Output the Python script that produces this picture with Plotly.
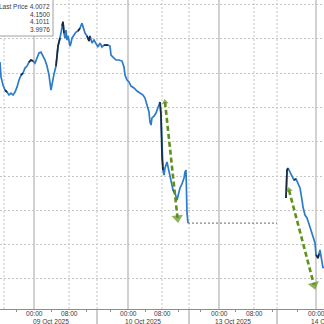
import plotly.graph_objects as go

# ---- data (bar index along compressed trading timeline, yield level) ----
bar_x = [0, 1, 3, 5, 7, 9, 11, 13, 15, 17, 19, 21, 23, 25, 27, 29, 31, 33, 35, 37, 39, 41, 43, 45, 47, 49, 51, 52, 54, 56, 57, 58, 60, 61, 62, 63, 64, 65, 66, 67, 68, 69, 70, 71, 72, 74, 76, 78, 80, 82, 83, 85, 87, 89, 90, 92, 94, 96, 98, 100, 102, 104, 106, 108, 110, 111, 113, 116, 119, 122, 124, 125, 127, 129, 131, 134, 137, 140, 143, 145, 147, 149, 150, 151, 152, 154, 156, 158, 159, 160, 161, 162, 163, 164, 165, 167, 169, 171, 173, 175, 177, 178, 180, 182, 184, 185, 186, 187, 188]
price = [4.1265, 4.1178, 4.1131, 4.1102, 4.1090, 4.1073, 4.1084, 4.1073, 4.1090, 4.1119, 4.1160, 4.1189, 4.1201, 4.1230, 4.1242, 4.1265, 4.1277, 4.1271, 4.1259, 4.1294, 4.1318, 4.1323, 4.1300, 4.1277, 4.1242, 4.1189, 4.1102, 4.1137, 4.1195, 4.1242, 4.1294, 4.1358, 4.1405, 4.1440, 4.1475, 4.1500, 4.1434, 4.1405, 4.1452, 4.1393, 4.1417, 4.1376, 4.1358, 4.1376, 4.1405, 4.1423, 4.1440, 4.1446, 4.1463, 4.1492, 4.1469, 4.1434, 4.1417, 4.1388, 4.1417, 4.1376, 4.1393, 4.1370, 4.1353, 4.1376, 4.1353, 4.1364, 4.1364, 4.1364, 4.1358, 4.1306, 4.1294, 4.1277, 4.1277, 4.1271, 4.1236, 4.1189, 4.1160, 4.1149, 4.1125, 4.1114, 4.1096, 4.1084, 4.1073, 4.1055, 4.1020, 4.0974, 4.0915, 4.0898, 4.0939, 4.0950, 4.0968, 4.0997, 4.1020, 4.1032, 4.0956, 4.0711, 4.0635, 4.0606, 4.0647, 4.0682, 4.0624, 4.0577, 4.0519, 4.0501, 4.0461, 4.0484, 4.0531, 4.0554, 4.0589, 4.0624, 4.0635, 4.0385, 4.0326]

bar_x2 = [286, 286.5, 287, 288, 290, 292, 294, 296, 298, 300, 302, 303, 305, 307, 309, 311, 313, 315, 316, 317, 318, 319, 320, 321, 322, 323, 324]
price2 = [4.0472, 4.0606, 4.0635, 4.0647, 4.0624, 4.0600, 4.0577, 4.0583, 4.0560, 4.0531, 4.0461, 4.0420, 4.0373, 4.0356, 4.0321, 4.0286, 4.0245, 4.0210, 4.0140, 4.0128, 4.0122, 4.0146, 4.0169, 4.0134, 4.0093, 4.0064, 4.0072]

holiday_x = [188, 277]
holiday_price = [4.0326, 4.0326]

dark_ranges = [(4, 8), (20, 23), (29, 34), (56, 60), (62, 64), (77, 80), (86, 90),
               (104, 108), (138, 142), (160, 163), (172, 176), (286, 288),
               (293, 297), (316, 319)]

# annotation arrows (start -> end), in data units
arrow_x0 = [165, 289]
arrow_p0 = [4.1032, 4.0519]
arrow_x1 = [177.5, 314]
arrow_p1 = [4.0356, 3.9965]

# time axis
session_starts = [4, 97, 189, 277]
midnight_x = [34, 128, 219, 316]
eight_x = [69, 162, 254]
small_ticks = [16, 51, 86, 110, 145, 178, 200, 235, 272, 297]
date_labels = ["09 Oct 2025", "10 Oct 2025", "13 Oct 2025", "14 Oct 2025"]

stats_labels = ["Last Price", "", "", ""]
stats_values = ["4.0072", "4.1500", "4.1011", "3.9976"]

X0, X1 = 0, 324
Y0, Y1 = 3.9825, 4.1627
BLUE = "#2e7bc9"
DARK = "#1c2a3c"
GREEN = "#5e9118"

fig = go.Figure()

for xs, ps in [(bar_x, price), (bar_x2, price2)]:
    fig.add_trace(go.Scatter(x=xs, y=ps, mode="lines",
                             line=dict(color=BLUE, width=1.7), hoverinfo="skip"))
    dx, dp = [], []
    for xv, pv in zip(xs, ps):
        dx.append(xv)
        dp.append(pv if any(a <= xv <= b for a, b in dark_ranges) else None)
    fig.add_trace(go.Scatter(x=dx, y=dp, mode="lines", connectgaps=False,
                             line=dict(color=DARK, width=1.7), hoverinfo="skip"))

fig.add_trace(go.Scatter(x=holiday_x, y=holiday_price, mode="lines",
                         line=dict(color="#666666", width=1, dash="2px,2px"),
                         hoverinfo="skip"))

for i in range(len(arrow_x0)):
    fig.add_trace(go.Scatter(x=[arrow_x0[i], arrow_x1[i]], y=[arrow_p0[i], arrow_p1[i]],
                             mode="lines", line=dict(color=GREEN, width=2.6, dash="5px,3px"),
                             hoverinfo="skip"))
    fig.add_trace(go.Scatter(x=[arrow_x0[i], arrow_x1[i]], y=[arrow_p0[i], arrow_p1[i]],
                             mode="markers",
                             marker=dict(symbol="triangle-up", size=[0, 10], color=GREEN,
                                         angleref="previous", line=dict(width=0)),
                             hoverinfo="skip"))
    fig.add_trace(go.Scatter(x=[arrow_x1[i], arrow_x0[i]], y=[arrow_p1[i], arrow_p0[i]],
                             mode="markers",
                             marker=dict(symbol="triangle-up", size=[0, 6], color=GREEN,
                                         angleref="previous", line=dict(width=0)),
                             hoverinfo="skip"))

shapes = []
for xv in midnight_x:
    shapes.append(dict(type="line", xref="x", yref="paper", x0=xv, x1=xv, y0=0, y1=1,
                       line=dict(color="#b8b8b8", width=1.3), layer="below"))
for xv in eight_x + session_starts:
    shapes.append(dict(type="line", xref="x", yref="paper", x0=xv, x1=xv, y0=0, y1=1,
                       line=dict(color="#c4c4c4", width=1, dash="2px,2px"), layer="below"))
for xv in session_starts[1:]:
    shapes.append(dict(type="line", xref="x", yref="paper", x0=xv, x1=xv, y0=0, y1=-0.06,
                       line=dict(color="#9a9a9a", width=1)))
# stats box
shapes.append(dict(type="rect", xref="paper", yref="paper", x0=-0.05, x1=53 / 324,
                   y0=1 - 36 / 309, y1=1.05, fillcolor="white",
                   line=dict(color="#a0a0a0", width=1), layer="above"))

annotations = []
TF = dict(family="Liberation Sans, Arial, sans-serif", size=6.6, color="#3a3a3a")
for xv in midnight_x:
    annotations.append(dict(x=xv, y=-0.0146, xref="x", yref="paper", text="00:00",
                            showarrow=False, font=TF, xanchor="center", yanchor="middle"))
for xv in eight_x:
    annotations.append(dict(x=xv, y=-0.0146, xref="x", yref="paper", text="08:00",
                            showarrow=False, font=TF, xanchor="center", yanchor="middle"))
for i, lab in enumerate(date_labels):
    if i + 1 < len(session_starts):
        cx = (session_starts[i] + session_starts[i + 1]) / 2
        annotations.append(dict(x=cx, y=-0.0395, xref="x", yref="paper", text=lab,
                                showarrow=False, font=TF, xanchor="center", yanchor="middle"))
    else:
        annotations.append(dict(x=session_starts[i] + 31.5, y=-0.0395, xref="x", yref="paper",
                                text=lab, showarrow=False, font=TF, xanchor="left",
                                yanchor="middle"))

SF = dict(family="Liberation Sans, Arial, sans-serif", size=6.5, color="#3a3a3a")
for i, (lab, val) in enumerate(zip(stats_labels, stats_values)):
    txt = (lab + " " + val) if lab else val
    annotations.append(dict(x=50.5 / 324, y=1 - (7 + 7.4 * i) / 309, xref="paper", yref="paper",
                            text=txt, showarrow=False, font=SF, xanchor="right",
                            yanchor="middle", borderpad=0))

fig.update_layout(
    width=324, height=324,
    margin=dict(l=0, r=0, t=0, b=15),
    paper_bgcolor="white", plot_bgcolor="white",
    showlegend=False,
    xaxis=dict(range=[X0, X1], showgrid=False, zeroline=False, showticklabels=False,
               showline=True, linecolor="#8c8c8c", linewidth=1,
               tickmode="array", tickvals=small_ticks, ticks="outside", ticklen=2,
               tickcolor="#8c8c8c", fixedrange=True),
    yaxis=dict(range=[Y0, Y1], tick0=4.0, dtick=0.02, showgrid=True,
               gridcolor="#c6c6c6", griddash="2px,2px", gridwidth=1,
               zeroline=False, showticklabels=False, fixedrange=True),
    shapes=shapes, annotations=annotations,
)

fig.write_html("out.html")
